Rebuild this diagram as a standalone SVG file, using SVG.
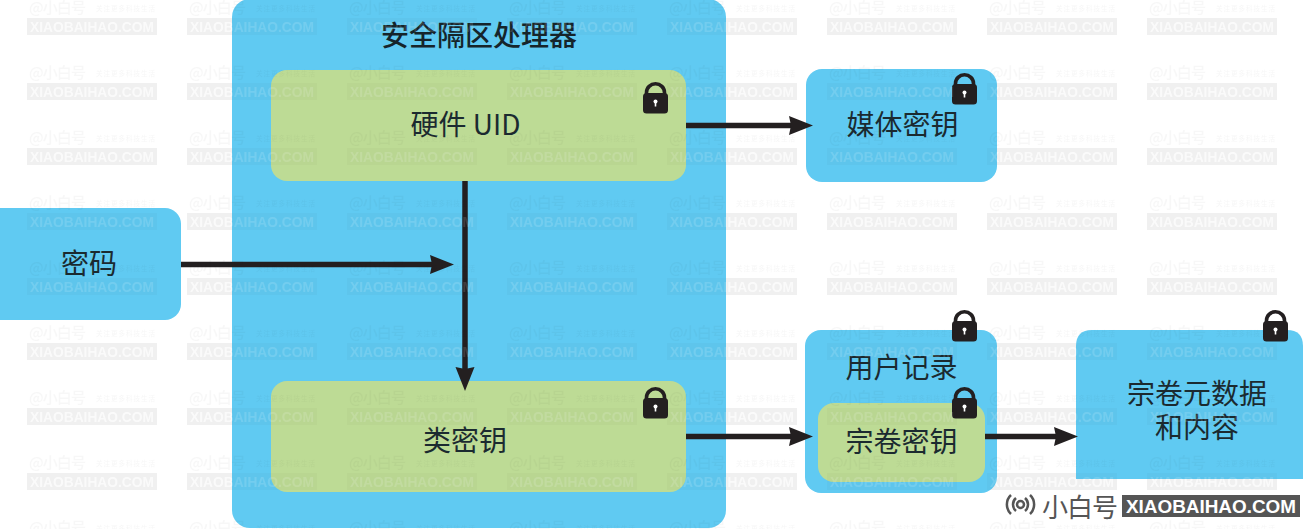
<svg xmlns="http://www.w3.org/2000/svg" width="1303" height="529" viewBox="0 0 1303 529">
<style>
text{font-family:"Noto Sans CJK SC","Noto Sans",sans-serif}
.blue{fill:#60caf2}
.green{fill:#bddb95}
.lbl{font-size:28px;fill:#1b2a30;text-anchor:middle}
.title{font-size:28px;font-weight:500;fill:#16252b;text-anchor:middle}
.line{stroke:#231f20;stroke-width:5.500;fill:none}
.head{fill:#231f20}
.wm1{font-size:15px;fill:#000;fill-opacity:.03;font-weight:500}
.wm2{font-size:6.500px;fill:#000;fill-opacity:.035}
.wm3{font-size:15.500px;font-family:"Liberation Sans",sans-serif;font-weight:700;fill:#fff}
</style>
<defs>
<g id="lock">
<path d="M-9 14V10.500a9 8.700 0 0 1 18 0V14" fill="none" stroke="#231f20" stroke-width="3.600"/>
<rect x="-12.500" y="11" width="25" height="20.500" rx="3.500" fill="#231f20"/>
<circle cx="0" cy="19.500" r="2" fill="#fff"/>
<rect x="-.8" y="20" width="1.600" height="4.500" fill="#fff"/>
</g>
<pattern id="wmBase" width="160" height="65" patternUnits="userSpaceOnUse" patternTransform="translate(27 18)">
<rect x="0" y="0" width="130" height="17" fill="#000" fill-opacity=".035"/>
<text class="wm3" x="3" y="14" textLength="124" lengthAdjust="spacingAndGlyphs">XIAOBAIHAO.COM</text>
</pattern>
<pattern id="wmTop" width="160" height="65" patternUnits="userSpaceOnUse" patternTransform="translate(27 18)">
<rect x="0" y="0" width="130" height="17" fill="#000" fill-opacity=".025"/>
<text class="wm3" x="3" y="14" textLength="124" lengthAdjust="spacingAndGlyphs" style="fill-opacity:.13">XIAOBAIHAO.COM</text>
<text class="wm1" x="2" y="-5" textLength="57">@小白号</text>
<text class="wm2" x="69" y="-7" textLength="59">关注更多科技生活</text>
<text class="wm1" x="2" y="60" textLength="57">@小白号</text>
<text class="wm2" x="69" y="58" textLength="59">关注更多科技生活</text>
</pattern>
</defs>
<rect width="1303" height="529" fill="#fff"/>
<rect id="watermark-base" width="1303" height="529" fill="url(#wmBase)"/>
<g id="secure-enclave">
<rect class="blue" x="232" y="-1" width="494" height="529" rx="18"/>
<text class="title" x="479" y="46">安全隔区处理器</text>
</g>
<g id="hardware-uid">
<rect class="green" x="271" y="70" width="415" height="111" rx="16"/>
<text class="lbl" x="465.500" y="135">硬件 UID</text>
<use href="#lock" x="655.500" y="82"/>
</g>
<g id="class-key">
<rect class="green" x="271" y="381" width="415" height="111" rx="16"/>
<text class="lbl" x="465" y="451">类密钥</text>
<use href="#lock" x="655.500" y="387"/>
</g>
<g id="password">
<rect class="blue" x="-16" y="208" width="197" height="112" rx="16"/>
<text class="lbl" x="89" y="274">密码</text>
</g>
<g id="media-key">
<rect class="blue" x="806" y="69" width="191" height="113" rx="16"/>
<text class="lbl" x="902.500" y="135">媒体密钥</text>
<use href="#lock" x="964.500" y="73"/>
</g>
<g id="user-record">
<rect class="blue" x="805" y="330" width="192" height="163" rx="16"/>
<text class="lbl" x="901.500" y="378">用户记录</text>
<use href="#lock" x="964.500" y="310"/>
</g>
<g id="volume-key">
<rect class="green" x="818" y="403" width="167" height="79" rx="16"/>
<text class="lbl" x="901.500" y="452">宗卷密钥</text>
<use href="#lock" x="964.500" y="387"/>
</g>
<g id="volume-data">
<path class="blue" d="M1092 330H1287Q1303 330 1303 346V479H1076V346Q1076 330 1092 330Z"/>
<text class="lbl"><tspan x="1197" y="404">宗卷元数据</tspan><tspan x="1197" y="438">和内容</tspan></text>
<use href="#lock" x="1275.500" y="310"/>
</g>
<g id="connectors">
<path class="line" d="M686 125.500H792"/>
<path class="head" d="M789 116L813 125.500L789 135L791 125.500Z"/>
<path class="line" d="M181 264.500H433"/>
<path class="head" d="M430 255L454 264.500L430 274L432 264.500Z"/>
<path class="line" d="M465 181V370"/>
<path class="head" d="M455.500 367L465 391L474.500 367L465 369Z"/>
<path class="line" d="M686 436.500H792"/>
<path class="head" d="M789 427L813 436.500L789 446L791 436.500Z"/>
<path class="line" d="M985 436.500H1057"/>
<path class="head" d="M1054 427L1078 436.500L1054 446L1056 436.500Z"/>
</g>
<rect id="watermark-top" width="1303" height="529" fill="url(#wmTop)"/>
<g id="logo">
<g fill="none" stroke="#555" stroke-width="2.500">
<path d="M1011 495a13 13 0 0 0 0 19"/>
<path d="M1016 498a8.500 8.500 0 0 0 0 13"/>
<path d="M1030 495a13 13 0 0 1 0 19"/>
<path d="M1025 498a8.500 8.500 0 0 1 0 13"/>
<circle cx="1020.500" cy="504.500" r="3.500"/>
</g>
<text x="1042" y="517" font-size="26" fill="#555" textLength="76">小白号</text>
<rect x="1122" y="495" width="178" height="22" fill="#555"/>
<text x="1126" y="513" font-size="19" fill="#fff" textLength="170" lengthAdjust="spacingAndGlyphs" style="font-family:'Liberation Sans',sans-serif;font-weight:700">XIAOBAIHAO.COM</text>
</g>
</svg>
